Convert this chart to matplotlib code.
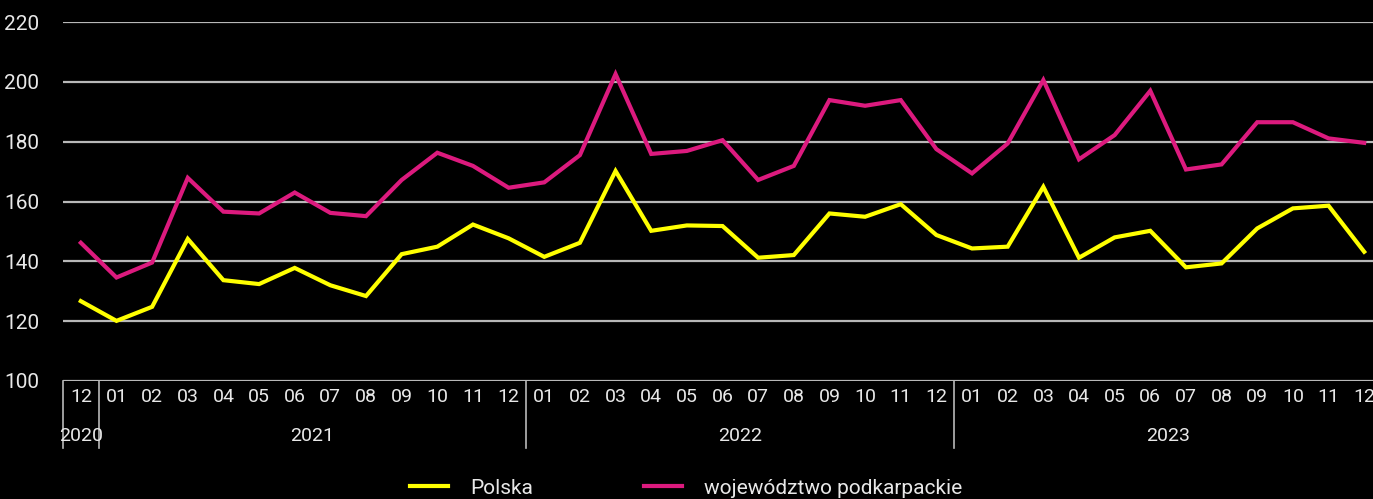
import matplotlib
matplotlib.use("Agg")
import matplotlib.pyplot as plt
import matplotlib.transforms as mtransforms

# ─── Data ────────────────────────────────────────────────────────────────────

months = ["12"] + [f"{m:02d}" for m in range(1, 13)] * 3
years = ["2020", "2021", "2022", "2023"]
year_spans = [(0, 0), (1, 12), (13, 24), (25, 36)]   # first / last index per year

polska = [126.7, 120.1, 124.8, 147.5, 133.7, 132.4, 137.8, 132.0, 128.4, 142.4,
          144.9, 152.3, 147.7, 141.5, 146.2, 170.2, 150.2, 152.0, 151.8, 141.2,
          142.1, 156.0, 154.9, 159.1, 148.8, 144.3, 144.9, 164.9, 141.2, 148.0,
          150.2, 138.0, 139.3, 151.0, 157.7, 158.6, 143.2]
podkarpackie = [146.2, 134.6, 139.6, 167.9, 156.6, 156.0, 163.0, 156.2, 155.1, 167.2,
                176.3, 171.9, 164.6, 166.4, 175.5, 202.6, 175.9, 176.9, 180.5, 167.2,
                171.9, 193.9, 192.0, 193.9, 177.5, 169.4, 179.4, 200.6, 174.1, 182.2,
                197.0, 170.7, 172.4, 186.5, 186.5, 181.1, 179.6]

YELLOW = "#ffff00"
MAGENTA = "#dc1a7e"
TEXT = "#e8e8e8"
GRID = "#b8b8b8"

plt.rcParams["font.family"] = ["Roboto", "DejaVu Sans"]

fig = plt.figure(figsize=(13.73, 4.99), dpi=100, facecolor="black")
W, H = 1373, 499
ax = fig.add_axes([63 / W, (H - 381) / H, 1319 / W, 359 / H], facecolor="black")

x = list(range(len(months)))
ax.plot(x, polska, color=YELLOW, lw=3.0, label="Polska", solid_joinstyle="miter")
ax.plot(x, podkarpackie, color=MAGENTA, lw=3.0, label="województwo podkarpackie",
        solid_joinstyle="miter")

ax.set_xlim(-0.5, len(months) - 0.5)
ax.set_ylim(100, 220)
ax.set_yticks(range(100, 221, 20))
ax.yaxis.grid(True, color=GRID, lw=1.6)
ax.set_axisbelow(True)
ax.tick_params(axis="y", length=0, pad=17, labelsize=15, labelcolor=TEXT)
ax.set_xticks([])
for s in ax.spines.values():
    s.set_visible(False)

# category table below the plot
trans = mtransforms.blended_transform_factory(ax.transData, ax.transAxes)
for i, m in enumerate(months):
    ax.text(i, -0.045, m, transform=trans, ha="center", va="center",
            color=TEXT, fontsize=14)
for yr, (a, b) in zip(years, year_spans):
    ax.text((a + b) / 2, -0.153, yr, transform=trans, ha="center", va="center",
            color=TEXT, fontsize=14)
for a, b in year_spans:
    ax.plot([a - 0.5, a - 0.5], [0, -0.187], transform=trans, color=GRID,
            lw=1.2, clip_on=False)

fig.legend(loc="center", bbox_to_anchor=(0.5, 11 / H), ncol=2, frameon=False,
           fontsize=15, labelcolor=TEXT, handlelength=1.8, handletextpad=1.1,
           columnspacing=5.3)

fig.savefig("out.png", dpi=100, facecolor="black")
